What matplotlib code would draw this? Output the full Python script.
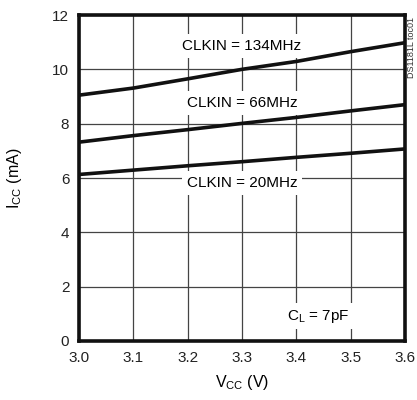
import numpy as np
import matplotlib
matplotlib.use('Agg')
import matplotlib.pyplot as plt

plt.rcParams['font.family'] = ['Liberation Sans Narrow', 'Liberation Sans', 'DejaVu Sans']

# Supply voltage (V)
vcc = [3.0, 3.1, 3.2, 3.3, 3.4, 3.5, 3.6]
# Supply current (mA) for each clock frequency
icc_134 = [9.05, 9.31, 9.65, 10.0, 10.29, 10.65, 10.98]
icc_66 = [7.32, 7.56, 7.78, 8.01, 8.23, 8.47, 8.70]
icc_20 = [6.13, 6.29, 6.45, 6.60, 6.76, 6.91, 7.07]

labels = ['CLKIN = 134MHz', 'CLKIN = 66MHz', 'CLKIN = 20MHz']

fig = plt.figure(figsize=(4.17, 4.0), dpi=100)
ax = fig.add_axes([79 / 417, 1 - 341 / 400, 326 / 417, 326 / 400])

for y in (icc_134, icc_66, icc_20):
    ax.plot(vcc, y, color='#111111', linewidth=2.6, solid_capstyle='butt', zorder=3)

ax.set_xlim(3.0, 3.6)
ax.set_ylim(0, 12)
ax.set_xticks(np.arange(3.0, 3.61, 0.1))
ax.set_xticklabels([f'{v:.1f}' for v in np.arange(3.0, 3.61, 0.1)])
ax.set_yticks(range(0, 13, 2))
ax.grid(True, color='#444444', linewidth=0.9)
ax.tick_params(length=0, labelsize=11, pad=7, colors='#222222')
for s in ax.spines.values():
    s.set_linewidth(2.6)
    s.set_color('#111111')

box = dict(facecolor='white', edgecolor='none', pad=3.5)
ax.text(3.3, 10.85, labels[0], ha='center', va='center', fontsize=11, bbox=box, zorder=4)
ax.text(3.3, 8.75, labels[1], ha='center', va='center', fontsize=11, bbox=box, zorder=4)
ax.text(3.3, 5.82, labels[2], ha='center', va='center', fontsize=11, bbox=box, zorder=4)
ax.text(3.44, 0.92, r'C$_\mathregular{L}$ = 7pF', ha='center', va='center', fontsize=11,
        bbox=box, zorder=4)

ax.set_xlabel(r'V$_\mathregular{CC}$ (V)', fontsize=11.5, labelpad=6)
ax.set_ylabel(r'I$_\mathregular{CC}$ (mA)', fontsize=11.5, labelpad=20)

fig.text(411 / 417, 1 - 48 / 400, 'DS1181L toc01', rotation=90, ha='center', va='center',
         fontsize=6.5, color='#333333')

fig.savefig('out.png', dpi=100)
